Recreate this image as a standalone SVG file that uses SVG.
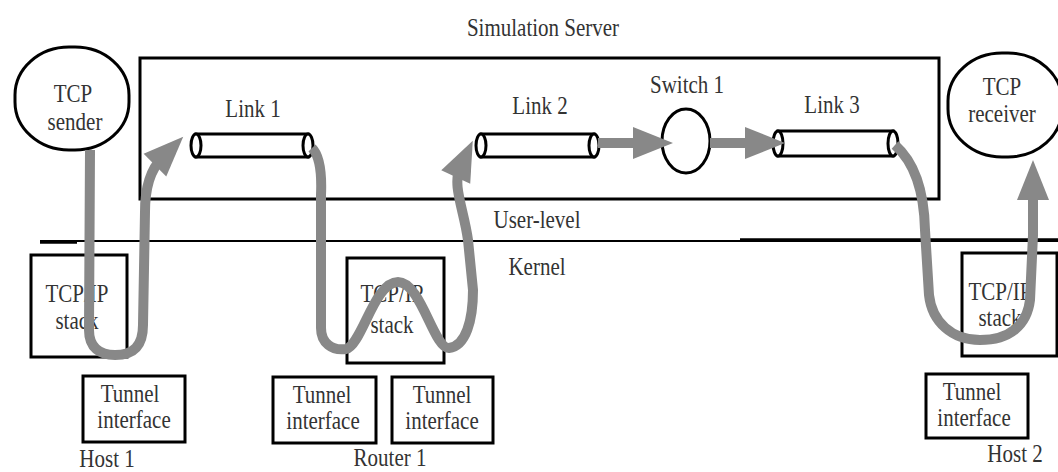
<svg xmlns="http://www.w3.org/2000/svg" width="1058" height="472" viewBox="0 0 1058 472">
<style>
.t{font-family:'Liberation Serif','DejaVu Serif',serif;font-size:21px;fill:#333;text-anchor:middle}
.b{fill:none;stroke:#000;stroke-width:3}
.w{fill:#fff;stroke:#000;stroke-width:3}
.g{fill:none;stroke:#888;stroke-width:10;stroke-linejoin:round}
</style>
<defs>
<marker id="ah" markerUnits="userSpaceOnUse" markerWidth="42" markerHeight="34" refX="10" refY="16" orient="auto" overflow="visible">
<path d="M0,0 L40,16 L0,32 z" fill="#888"/>
</marker>
</defs>
<rect width="1058" height="472" fill="#fff"/>
<g id="server">
<rect class="b" x="140" y="58" width="799" height="141"/>
<text class="t" font-family="Liberation Serif, serif" transform="translate(543,36) scale(1,1.2)">Simulation Server</text>
<text class="t" transform="translate(537,228) scale(1,1.2)">User-level</text>
<text class="t" transform="translate(537,275) scale(1,1.2)">Kernel</text>
</g>
<g id="boundary">
<line x1="40" y1="241" x2="1058" y2="241" stroke="#000" stroke-width="2"/>
<line x1="40" y1="242" x2="77" y2="242" stroke="#000" stroke-width="3.5"/>
<line x1="740" y1="240" x2="1058" y2="240" stroke="#000" stroke-width="3.5"/>
</g>
<g id="tcp-sender">
<rect class="b" x="15" y="47" width="114" height="103" rx="54" ry="48"/>
<text class="t" transform="translate(73,102) scale(1,1.2)">TCP</text>
<text class="t" transform="translate(75,130) scale(1,1.2)">sender</text>
</g>
<g id="tcp-receiver">
<rect class="b" x="948" y="53" width="114" height="104" rx="54" ry="48"/>
<text class="t" transform="translate(1002,95) scale(1,1.2)">TCP</text>
<text class="t" transform="translate(1002,122) scale(1,1.2)">receiver</text>
</g>
<g id="link1">
<rect class="w" x="196" y="134" width="112" height="23"/>
<ellipse class="w" cx="196" cy="145.5" rx="5" ry="11.5"/>
<ellipse class="w" cx="308" cy="145.5" rx="5" ry="11.5"/>
<text class="t" transform="translate(253,117) scale(1,1.2)">Link 1</text>
</g>
<g id="link2">
<rect class="w" x="481" y="134" width="113" height="23"/>
<ellipse class="w" cx="481" cy="145.5" rx="5" ry="11.5"/>
<ellipse class="w" cx="594" cy="145.5" rx="5" ry="11.5"/>
<text class="t" transform="translate(540,114) scale(1,1.2)">Link 2</text>
</g>
<g id="switch1">
<ellipse class="w" cx="686" cy="141" rx="24" ry="32"/>
<text class="t" transform="translate(687,93) scale(1,1.2)">Switch 1</text>
</g>
<g id="link3">
<rect class="w" x="778" y="131" width="115" height="25"/>
<ellipse class="w" cx="778" cy="143.5" rx="5" ry="12.5"/>
<ellipse class="w" cx="893" cy="143.5" rx="5" ry="12.5"/>
<text class="t" transform="translate(832,113) scale(1,1.2)">Link 3</text>
</g>
<g id="host1-stack">
<rect class="b" x="31" y="255" width="96" height="102"/>
<text class="t" transform="translate(77,302) scale(1,1.2)">TCP/IP</text>
<text class="t" transform="translate(77,329) scale(1,1.2)">stack</text>
</g>
<g id="host1-tunnel">
<rect class="b" x="83" y="376" width="102" height="66"/>
<text class="t" transform="translate(130,402) scale(1,1.15)">Tunnel</text>
<text class="t" transform="translate(134,428) scale(1,1.15)">interface</text>
</g>
<g id="host1-label"><text class="t" transform="translate(107,467) scale(1,1.2)">Host 1</text></g>
<g id="router1-stack">
<rect class="b" x="347" y="258" width="97" height="105"/>
<text class="t" transform="translate(392,302) scale(1,1.2)">TCP/IP</text>
<text class="t" transform="translate(392,333) scale(1,1.2)">stack</text>
</g>
<g id="router1-tunnel-a">
<rect class="b" x="273" y="377" width="103" height="66"/>
<text class="t" transform="translate(322,403) scale(1,1.15)">Tunnel</text>
<text class="t" transform="translate(323,429) scale(1,1.15)">interface</text>
</g>
<g id="router1-tunnel-b">
<rect class="b" x="392" y="377" width="101" height="66"/>
<text class="t" transform="translate(442,403) scale(1,1.15)">Tunnel</text>
<text class="t" transform="translate(442,429) scale(1,1.15)">interface</text>
</g>
<g id="router1-label"><text class="t" transform="translate(390,466) scale(1,1.15)">Router 1</text></g>
<g id="host2-stack">
<rect class="b" x="962" y="253" width="95" height="103"/>
<text class="t" transform="translate(1000,300) scale(1,1.2)">TCP/IP</text>
<text class="t" transform="translate(1000,326) scale(1,1.2)">stack</text>
</g>
<g id="host2-tunnel">
<rect class="b" x="926" y="374" width="102" height="64"/>
<text class="t" transform="translate(972,400) scale(1,1.15)">Tunnel</text>
<text class="t" transform="translate(974,426) scale(1,1.15)">interface</text>
</g>
<g id="host2-label"><text class="t" transform="translate(1015,462) scale(1,1.2)">Host 2</text></g>
<g id="connectors">
<path class="g" marker-end="url(#ah)" d="M90,150 L89,330 C89,348 100,355 115,355 C133,355 143,346 143,325 L145,212 C145,188 150,170 162,158"/>
<path class="g" marker-end="url(#ah)" d="M312,148 C320,156 322,172 321,195 L321,328 C321,343 332,351 346,349 C362,345 374,282 398,282 C421,282 434,349 449,348 C466,346 473,320 473,290 L468,240 C464,210 452,185 460,168"/>
<path class="g" marker-end="url(#ah)" d="M598,143 L643,143"/>
<path class="g" marker-end="url(#ah)" d="M710,143 L755,143"/>
<path class="g" marker-end="url(#ah)" d="M895,145 C912,160 924,185 925,230 L929,295 C932,322 952,340 980,340 C1010,340 1027,325 1030,300 L1033,235 L1033,190"/>
</g>
</svg>
